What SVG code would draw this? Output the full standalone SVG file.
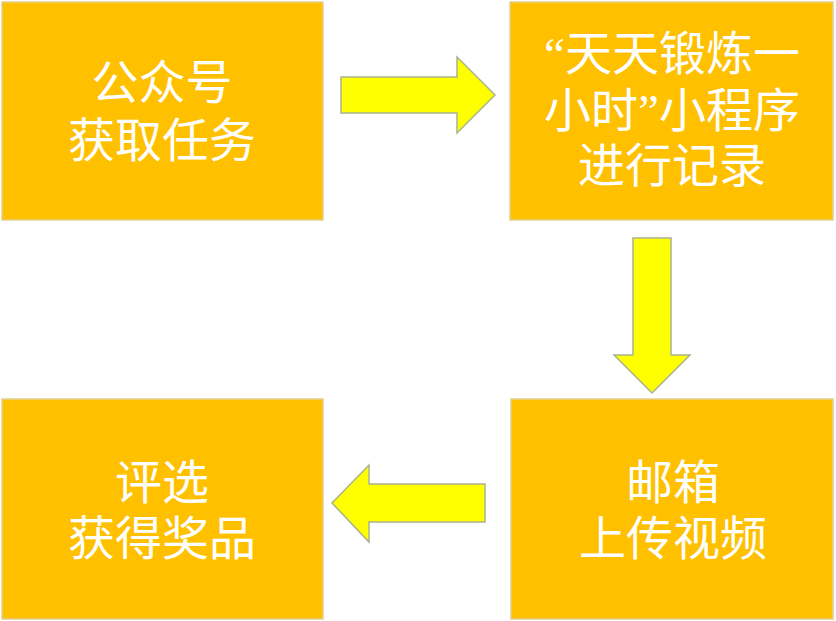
<svg xmlns="http://www.w3.org/2000/svg" width="836" height="621" viewBox="0 0 836 621">
<style>
.box{fill:#FFC000;stroke:#E3CF8E;stroke-width:1.5}
.arrow{fill:#FFFF00;stroke:#A9B38E;stroke-width:1.5;stroke-linejoin:miter}
.lbl{font-family:"Noto Sans CJK SC","Noto Sans CJK JP",sans-serif;font-size:47px;fill:#FFFFFF;text-anchor:middle}
.q{font-family:"Liberation Serif",serif}
</style>
<rect width="836" height="621" fill="#FFFFFF"/>
<g id="connectors">
<polygon class="arrow" points="341,77 457,77 457,57 495,95 457,133 457,113 341,113"/>
<polygon class="arrow" points="633,238 671,238 671,355 690,355 652,393 614,355 633,355"/>
<polygon class="arrow" points="485,484 369,484 369,465 332,503 369,542 369,522 485,522"/>
</g>
<g id="node1">
<rect class="box" x="2" y="2" width="321" height="218"/>
<text class="lbl" x="162" y="99">公众号</text>
<text class="lbl" x="162" y="157">获取任务</text>
</g>
<g id="node2">
<rect class="box" x="510" y="2" width="323" height="218"/>
<text class="lbl" x="672" y="70"><tspan class="q">“</tspan>天天锻炼一</text>
<text class="lbl" x="672" y="127">小时<tspan class="q">”</tspan>小程序</text>
<text class="lbl" x="672" y="182">进行记录</text>
</g>
<g id="node3">
<rect class="box" x="511" y="399" width="322" height="220"/>
<text class="lbl" x="673" y="499">邮箱</text>
<text class="lbl" x="673" y="555">上传视频</text>
</g>
<g id="node4">
<rect class="box" x="2" y="399" width="321" height="220"/>
<text class="lbl" x="162" y="499">评选</text>
<text class="lbl" x="162" y="555">获得奖品</text>
</g>
</svg>
